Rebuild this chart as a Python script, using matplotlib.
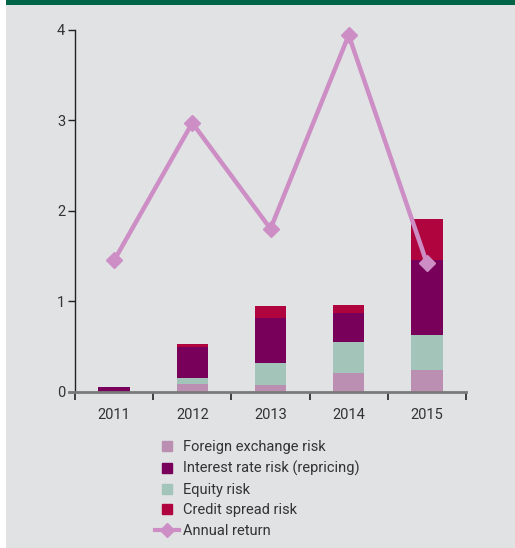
import numpy as np
import matplotlib.pyplot as plt
from matplotlib.lines import Line2D
from matplotlib.patches import Rectangle

# chart values
years = ['2011', '2012', '2013', '2014', '2015']
fx_risk = [0.0, 0.09, 0.07, 0.21, 0.24]
interest_risk = [0.05, 0.34, 0.49, 0.32, 0.83]
equity_risk = [0.0, 0.06, 0.25, 0.34, 0.39]
credit_risk = [0.0, 0.04, 0.14, 0.09, 0.45]
annual_return = [1.45, 2.97, 1.80, 3.94, 1.42]

labels = ['Foreign exchange risk', 'Interest rate risk (repricing)',
          'Equity risk', 'Credit spread risk', 'Annual return']

# colours
bg = '#e1e2e4'
green = '#006548'
c_fx = '#bb8fb2'
c_int = '#79005a'
c_eq = '#a3c4b8'
c_cr = '#b0043e'
c_line = '#cc8ec4'
txt = '#333333'

plt.rcParams['font.family'] = ['Liberation Sans Narrow', 'Roboto', 'DejaVu Sans']

fig = plt.figure(figsize=(5.15, 5.48), dpi=100)
fig.patch.set_facecolor('white')

# grey panel and green band on top
fig.add_artist(Rectangle((6 / 515, 0), 1 - 6 / 515, 1, transform=fig.transFigure,
                         facecolor=bg, edgecolor='none', zorder=-10))
fig.add_artist(Rectangle((6 / 515, 1 - 5 / 548), 1 - 6 / 515, 5 / 548,
                         transform=fig.transFigure, facecolor=green,
                         edgecolor='none', zorder=-9))

ax = fig.add_axes([75 / 515, (548 - 391.7) / 548, 391 / 515, 362 / 548])
ax.set_facecolor('none')

x = np.arange(len(years))
w = 0.4

# stacking order: FX, equity, interest, credit (bottom to top)
b1 = np.array(fx_risk)
b2 = b1 + np.array(equity_risk)
b3 = b2 + np.array(interest_risk)
ax.bar(x, fx_risk, w, color=c_fx, zorder=2)
ax.bar(x, equity_risk, w, bottom=b1, color=c_eq, zorder=2)
ax.bar(x, interest_risk, w, bottom=b2, color=c_int, zorder=2)
ax.bar(x, credit_risk, w, bottom=b3, color=c_cr, zorder=2)

ax.plot(x, annual_return, color=c_line, lw=3.2, marker='D', markersize=8,
        zorder=3, clip_on=False)

ax.set_xlim(-0.5, 4.5)
ax.set_ylim(0, 4)

# axes styling
for s in ['top', 'right', 'bottom']:
    ax.spines[s].set_visible(False)
ax.spines['left'].set_color('#222222')
ax.spines['left'].set_linewidth(1.0)
ax.axhline(0, xmin=-0.015, xmax=1.0, color='#7a7a7a', lw=2, clip_on=False, zorder=4)

ax.set_yticks([0, 1, 2, 3, 4])
ax.tick_params(axis='y', direction='out', length=5, width=1, color='#222222',
               labelsize=10.5, labelcolor=txt, pad=2)

ax.set_xticks(np.arange(-0.5, 5, 1))
ax.set_xticklabels([])
ax.set_xticks(x, minor=True)
ax.set_xticklabels(years, minor=True)
ax.tick_params(axis='x', which='major', direction='out', length=6, width=1.2,
               color='#222222')
ax.tick_params(axis='x', which='minor', length=0, pad=12, labelsize=10.5,
               labelcolor=txt)

handles = [
    Line2D([], [], ls='none', marker='s', markersize=7, color=c_fx),
    Line2D([], [], ls='none', marker='s', markersize=7, color=c_int),
    Line2D([], [], ls='none', marker='s', markersize=7, color=c_eq),
    Line2D([], [], ls='none', marker='s', markersize=7, color=c_cr),
    Line2D([], [], color=c_line, lw=3, marker='D', markersize=7),
]
leg = fig.legend(handles, labels, loc='upper left',
                 bbox_to_anchor=(148 / 515, 1 - 433 / 548), frameon=False,
                 fontsize=10.5, handlelength=1.6, handletextpad=0.3,
                 labelspacing=0.45, borderpad=0)
for t in leg.get_texts():
    t.set_color(txt)

fig.savefig('out.png', dpi=100, facecolor=fig.get_facecolor())
